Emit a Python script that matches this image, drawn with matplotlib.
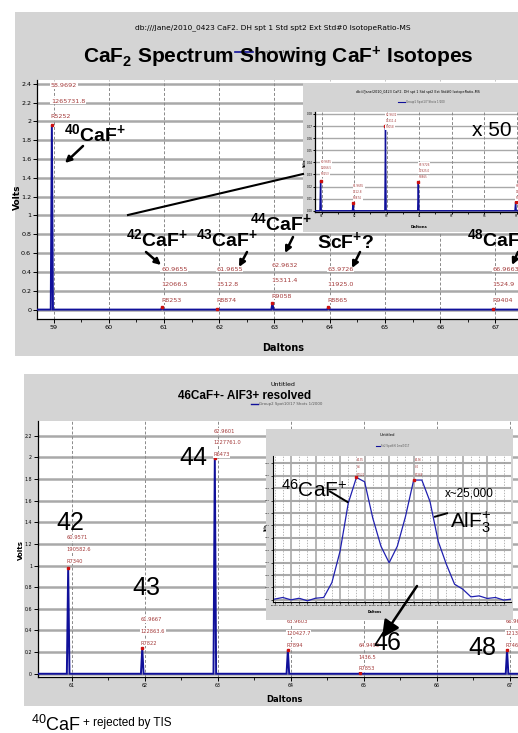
import matplotlib
matplotlib.use("Agg")
import matplotlib.pyplot as plt
import matplotlib.transforms as mtransforms
from matplotlib.patches import Rectangle, FancyArrowPatch
from matplotlib.lines import Line2D
from matplotlib.ticker import MultipleLocator

W, H = 518, 733
GRAY = '#d4d4d4'
BLUE = '#10109a'
RED = '#a33a3a'
NARROW = ['Liberation Sans Narrow', 'DejaVu Sans Condensed', 'DejaVu Sans']

plt.rcParams['font.family'] = ['Liberation Sans', 'DejaVu Sans']
plt.rcParams['mathtext.fontset'] = 'custom'
plt.rcParams['mathtext.rm'] = 'Liberation Sans'
plt.rcParams['mathtext.it'] = 'Liberation Sans:italic'
plt.rcParams['mathtext.bf'] = 'Liberation Sans:bold'

# ---- top spectrum (CaF2, 40CaF+ included) ----
top_mass = [58.969, 60.966, 61.966, 62.963, 63.973, 66.966]
top_volts = [1.96, 0.025, 0.0066, 0.07, 0.024, 0.007]
top_lab_mass = ["58.9692", "60.9655", "61.9655", "62.9632", "63.9726", "66.9663"]
top_lab_area = ["1265731.8", "12066.5", "1512.8", "15311.4", "11925.0", "1524.9"]
top_lab_res = ["R5252", "R8253", "R8874", "R9058", "R8865", "R9404"]
top_xticks = [59, 60, 61, 62, 63, 64, 65, 66, 67]
top_yticks = [0, 0.2, 0.4, 0.6, 0.8, 1, 1.2, 1.4, 1.6, 1.8, 2, 2.2, 2.4]
inset1_xticks = [61, 62, 63, 64, 65, 66, 67]
inset1_yticks = [0, 0.01, 0.02, 0.03, 0.04, 0.05, 0.06, 0.07, 0.08]

# ---- bottom spectrum (40CaF+ rejected) ----
bot_mass = [60.953, 61.967, 62.960, 63.960, 64.949, 66.960]
bot_volts = [0.975, 0.237, 1.99, 0.22, 0.008, 0.22]
bot_lab_mass = ["60.9571", "61.9667", "62.9601", "63.9603", "64.9493", "66.9601"]
bot_lab_area = ["190582.6", "122863.6", "1227761.0", "120427.7", "1436.5", "121361.5"]
bot_lab_res = ["R7340", "R7822", "R6473", "R7894", "R7853", "R7465"]
bot_xticks = [61, 62, 63, 64, 65, 66, 67]
bot_yticks = [0, 0.2, 0.4, 0.6, 0.8, 1, 1.2, 1.4, 1.6, 1.8, 2, 2.2]

# ---- zoomed 46CaF+ / AlF3+ doublet (x~25,000) ----
dbl_signal = [0.06, 0.19, 0.0, 0.13, -0.08, 0.13, 0.19, 1.39, 3.92, 7.79,
              9.87, 9.52, 6.59, 4.32, 2.99, 4.32, 6.72, 9.66, 9.66, 7.92,
              4.72, 2.86, 1.26, 0.86, 0.24, 0.32, 0.11, 0.19, -0.02, 0.06]
dbl_peaks = [10, 17]
dbl_lab = [["64.95", "8.6", "R7521"], ["64.96", "8.4", "R7388"]]
dbl_xlabels = [f"{64.930 + 0.0015 * i:.3f}" for i in range(29)]
dbl_ylabels = [f"{0.02 * k:.2f}" for k in range(12)]

fig = plt.figure(figsize=(W / 100, H / 100), dpi=100)
fig.patch.set_facecolor('white')
# pixel coords measured from the top-left corner
T = mtransforms.Affine2D().scale(1 / W, -1 / H).translate(0, 1) + fig.transFigure


def px_axes(l, t, r, b, z):
    return fig.add_axes([l / W, 1 - b / H, (r - l) / W, (b - t) / H], zorder=z)


def ftext(x, y, s, **kw):
    kw.setdefault('zorder', 10)
    return fig.text(x, y, s, transform=T, **kw)


def arrow(x0, y0, x1, y1, ms=9, lw=1.8):
    fig.add_artist(FancyArrowPatch((x0, y0), (x1, y1), transform=T, arrowstyle='-|>',
                                   mutation_scale=ms, lw=lw, color='black',
                                   shrinkA=0, shrinkB=0, zorder=10))


def seg(x0, y0, x1, y1, lw=1.5):
    fig.add_artist(Line2D([x0, x1], [y0, y1], transform=T, color='black', lw=lw, zorder=10))


def bg_box(l, t, r, b, z=None):
    if z is None:
        fig.add_artist(Rectangle((l, t), r - l, b - t, transform=T, fc=GRAY, ec='none', zorder=0))
        return
    a = px_axes(l, t, r, b, z)
    a.set_facecolor(GRAY)
    a.set_xticks([])
    a.set_yticks([])
    for s in a.spines.values():
        s.set_visible(False)


def sticks(ax, mass, volts, half, lw):
    x0, x1 = ax.get_xlim()
    xs, ys = [x0], [0]
    for m, v in zip(mass, volts):
        xs += [m - half, m, m + half]
        ys += [0, v, 0]
    xs.append(x1)
    ys.append(0)
    ax.plot(xs, ys, color=BLUE, lw=lw, zorder=3, solid_joinstyle='miter')
    ax.plot(mass, volts, 's', color='#cc1010', ms=2, zorder=4)


def style(ax, xlim, ylim, xticks, yticks, fs, hlw, ylabfmt=None):
    ax.set_xlim(*xlim)
    ax.set_ylim(*ylim)
    ax.set_facecolor('white')
    for s in ('top', 'right'):
        ax.spines[s].set_visible(False)
    for s in ('left', 'bottom'):
        ax.spines[s].set_linewidth(0.9)
    ax.set_xticks(xticks)
    ax.set_xticklabels([f"{v:g}" for v in xticks], fontsize=fs, family=NARROW)
    ax.xaxis.set_minor_locator(MultipleLocator(0.5))
    ax.set_yticks(yticks)
    labs = ylabfmt if ylabfmt is not None else [f"{v:g}" for v in yticks]
    ax.set_yticklabels(labs, fontsize=fs, family=NARROW)
    ax.tick_params(which='major', length=3, width=0.7, pad=1.2)
    ax.tick_params(which='minor', length=2, width=0.6)
    for yv in yticks:
        ax.axhline(yv, color='#a9a9a9', lw=hlw, zorder=1)
    for xv in xticks:
        ax.axvline(xv, color='#8a8a8a', lw=0.7, ls=(0, (3, 2)), zorder=1)


def peak_text(ax, masses, rows, y0s, dy, fs, dx):
    for m, r, y0 in zip(masses, zip(*rows), y0s):
        for k, s in enumerate(r):
            ax.text(m + dx, y0 - k * dy, s, fontsize=fs, color=RED, family=NARROW,
                    ha='left', va='center', zorder=5,
                    bbox=dict(fc='white', ec='none', pad=0.4))


# ================= top panel =================
bg_box(15, 12, 518, 356)
ax1 = px_axes(37, 80, 518, 319, 1)
style(ax1, (58.7, 67.41), (-0.1, 2.44), top_xticks, top_yticks, 4.6, 1.8)
sticks(ax1, top_mass, top_volts, 0.02, 1.4)
peak_text(ax1, top_mass, [top_lab_mass, top_lab_area, top_lab_res],
          [2.38, 0.43, 0.43, 0.47, 0.43, 0.43], 0.165, 4.6, -0.02)

ftext(273, 28, "db:///Jane/2010_0423 CaF2. DH spt 1 Std spt2 Ext Std#0 IsotopeRatio-MS",
      fontsize=5.4, family=NARROW, ha='center', va='center')
fig.add_artist(Line2D([235, 253], [51.5, 51.5], transform=T, color=BLUE, lw=1.2, zorder=9))
ftext(255, 51.5, "Group1 Spot1/7 Shots 1/200", fontsize=3.2, color='#555555',
      family=NARROW, va='center', zorder=9)
ftext(278, 57, r"CaF$_\mathbf{2}$ Spectrum Showing CaF$^\mathbf{+}$ Isotopes",
      fontsize=15, fontweight='bold', ha='center', va='center')
ftext(17, 197, "Volts", fontsize=6.5, fontweight='bold', family=NARROW, rotation=90,
      ha='center', va='center')
ftext(283, 348, "Daltons", fontsize=7, fontweight='bold', family=NARROW,
      ha='center', va='center')

# x50 inset
bg_box(303, 83, 518, 232, 2)
ax1i = px_axes(315, 111.7, 518, 211.7, 3)
style(ax1i, (60.794, 67.04), (-0.0008, 0.0819), inset1_xticks, inset1_yticks, 2.0, 1.0,
      ylabfmt=[f"{v:.2f}" for v in inset1_yticks])
ax1i.tick_params(which='both', length=1.3, pad=0.5)
sticks(ax1i, top_mass[1:], top_volts[1:], 0.02, 1.0)
peak_text(ax1i, top_mass[1:], [top_lab_mass[1:], top_lab_area[1:], top_lab_res[1:]],
          [0.0403, 0.0204, 0.079, 0.0378, 0.0204], 0.005, 2.0, 0.0)
ftext(418, 92.5, "db:///Jane/2010_0423 CaF2. DH spt 1 Std spt2 Ext Std#0 IsotopeRatio-MS",
      fontsize=2.4, family=NARROW, ha='center', va='center', zorder=4)
fig.add_artist(Line2D([398, 405], [101.5, 101.5], transform=T, color=BLUE, lw=0.8, zorder=4))
ftext(406, 101.5, "Group1 Spot1/7 Shots 1/200", fontsize=2.0, color='#555555',
      family=NARROW, va='center', zorder=4)
ftext(304.5, 163, "Volts", fontsize=2.2, fontweight='bold', family=NARROW, rotation=90,
      ha='center', va='center', zorder=4)
ftext(419, 227, "Daltons", fontsize=2.8, fontweight='bold', family=NARROW,
      ha='center', va='center', zorder=4)

# annotations, top panel
ftext(95, 134, r"$^{\mathbf{40}}\mathbf{CaF}^{\mathbf{+}}$", fontsize=14, ha='center', va='center')
arrow(83, 146, 65, 163)
ftext(491.5, 130, "x 50", fontsize=15, ha='center', va='center')
seg(128, 215, 303, 174)
ftext(157, 239, r"$^{\mathbf{42}}\mathbf{CaF}^{\mathbf{+}}$", fontsize=14, ha='center', va='center')
arrow(146, 252, 161, 265)
ftext(227.5, 239, r"$^{\mathbf{43}}\mathbf{CaF}^{\mathbf{+}}$", fontsize=14, ha='center', va='center')
arrow(247, 252, 239, 267)
ftext(281, 223, r"$^{\mathbf{44}}\mathbf{CaF}^{\mathbf{+}}$", fontsize=14, ha='center', va='center')
arrow(293, 237, 285, 253)
ftext(346, 241, r"$\mathbf{ScF}^{\mathbf{+}}\mathbf{?}$", fontsize=14, ha='center', va='center')
arrow(360, 252, 352, 268)
ftext(467, 239, r"$^{\mathbf{48}}\mathbf{CaF}^{\mathbf{+}}$", fontsize=14, ha='left', va='center')
arrow(518, 252, 512, 265)

# ================= bottom panel =================
bg_box(24, 374, 518, 706)
ax2 = px_axes(38, 421, 518, 677, 1)
style(ax2, (60.54, 67.11), (-0.03, 2.335), bot_xticks, bot_yticks, 3.4, 1.8)
sticks(ax2, bot_mass, bot_volts, 0.018, 1.4)
peak_text(ax2, bot_mass, [bot_lab_mass, bot_lab_area, bot_lab_res],
          [1.256, 0.50, 2.24, 0.48, 0.26, 0.48], 0.108, 3.7, -0.02)

ftext(283, 385, "Untitled", fontsize=4.5, family=NARROW, ha='center', va='center')
ftext(245, 396, "46CaF+- AlF3+ resolved", fontsize=8.5, fontweight='bold',
      ha='center', va='center')
fig.add_artist(Line2D([251, 258], [404, 404], transform=T, color=BLUE, lw=1.0, zorder=9))
ftext(259, 404, "Group2 Spot10/17 Shots 1/2000", fontsize=2.8, color='#555555',
      family=NARROW, va='center', zorder=9)
ftext(21, 550, "Volts", fontsize=5, fontweight='bold', family=NARROW, rotation=90,
      ha='center', va='center')
ftext(284, 700, "Daltons", fontsize=6, fontweight='bold', family=NARROW,
      ha='center', va='center')

# doublet inset
bg_box(266, 429, 513, 620, 2)
ax2i = px_axes(273, 456, 511, 601.7, 3)
ax2i.set_facecolor('white')
ax2i.set_xlim(-0.2, 28.9)
ax2i.set_ylim(-0.15, 11.6)
for s in ('top', 'right'):
    ax2i.spines[s].set_visible(False)
ax2i.set_xticks(range(len(dbl_xlabels)))
ax2i.set_xticklabels(dbl_xlabels, fontsize=1.6, family=NARROW, rotation=0)
ax2i.set_yticks(range(len(dbl_ylabels)))
ax2i.set_yticklabels(dbl_ylabels, fontsize=1.6, family=NARROW)
ax2i.tick_params(length=1.5, width=0.5, pad=0.6)
for k in range(len(dbl_ylabels)):
    ax2i.axhline(k, color='#a9a9a9', lw=1.5, zorder=1)
for i in range(len(dbl_xlabels)):
    if i % 3 == 2:
        ax2i.axvline(i, color='#a9a9a9', lw=1.2, zorder=1)
    else:
        ax2i.axvline(i, color='#9a9a9a', lw=0.5, ls=(0, (2, 2)), zorder=1)
ax2i.plot(range(len(dbl_signal)), dbl_signal, color='#2020b0', lw=0.9, zorder=3)
for p, lab in zip(dbl_peaks, dbl_lab):
    ax2i.plot([p], [dbl_signal[p]], 's', color='#cc1010', ms=1.5, zorder=4)
    for k, s in enumerate(lab):
        ax2i.text(p + 0.1, 11.3 - k * 0.6, s, fontsize=1.8, color=RED, family=NARROW,
                  ha='left', va='center', zorder=5)
ftext(387, 435, "Untitled", fontsize=2.8, family=NARROW, ha='center', va='center', zorder=4)
fig.add_artist(Line2D([376, 380], [445.5, 445.5], transform=T, color=BLUE, lw=0.8, zorder=4))
ftext(381, 445.5, "Fit2 Spot6/6 1ms/1017", fontsize=1.8, color='#555555',
      family=NARROW, va='center', zorder=4)
ftext(266, 527, "Volts", fontsize=1.9, fontweight='bold', family=NARROW, rotation=90,
      ha='center', va='center', zorder=4)
ftext(375, 612, "Daltons", fontsize=2.4, fontweight='bold', family=NARROW,
      ha='center', va='center', zorder=4)

# annotations, bottom panel
for s, x, y in [("42", 70.5, 523), ("43", 146, 588), ("44", 193.5, 458),
                ("46", 387.5, 643), ("48", 482.5, 648)]:
    ftext(x, y, s, fontsize=18, ha='center', va='center')
ftext(281, 490, r"$^{46}$CaF$^{+}$", fontsize=15, ha='left', va='center')
seg(330, 491.5, 347.5, 502, lw=1.4)
ftext(469.5, 494, "x~25,000", fontsize=8.5, ha='center', va='center')
ftext(450, 522, r"AlF$_{3}^{+}$", fontsize=15, ha='left', va='center')
seg(435, 516.7, 447, 513.3, lw=1.4)
arrow(417, 586, 382, 638, ms=26, lw=1.8)

# footnote
ftext(31, 731, r"$^{40}$CaF", fontsize=13, ha='left', va='baseline')
ftext(83, 726, "+ rejected by TIS", fontsize=8.5, ha='left', va='baseline')

fig.savefig("out.png", dpi=100, facecolor='white')
